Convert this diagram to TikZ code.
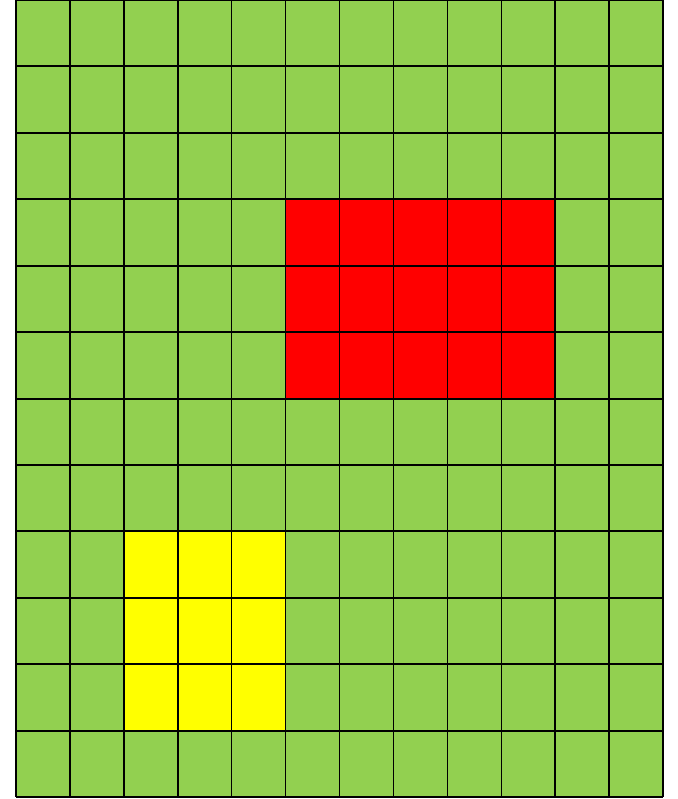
\documentclass[tikz,border=0pt]{standalone}
\definecolor{cellgreen}{RGB}{146,208,80}
\definecolor{cellred}{RGB}{255,0,0}
\definecolor{cellyellow}{RGB}{255,255,0}
\begin{document}
\begin{tikzpicture}[x=1pt,y=-1pt]
  \useasboundingbox (0,0) rectangle (677,799);
  \fill[cellgreen] (16,0) rectangle (663,797);
  \fill[cellred] (285.6,199.25) rectangle (555.2,398.5);
  \fill[cellyellow] (123.8,531.3) rectangle (285.6,730.6);
  \foreach \i in {0,...,12}
    \draw[line width=1.5pt] ({16+\i*53.917},0) -- ({16+\i*53.917},797);
  \foreach \j in {0,...,12}
    \draw[line width=2pt] (16,{\j*66.417}) -- (663,{\j*66.417});
\end{tikzpicture}
\end{document}
